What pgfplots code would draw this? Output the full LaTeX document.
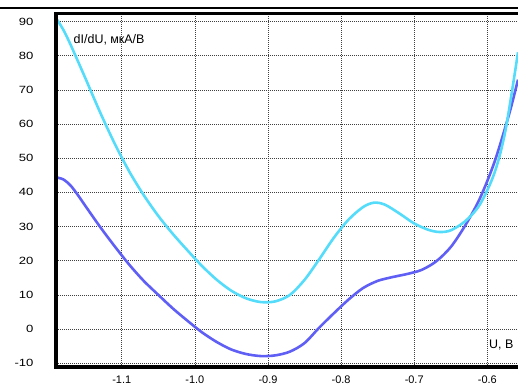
\documentclass[border=0pt]{standalone}
\usepackage{fontspec}
\setmainfont{Liberation Sans}
\newfontfamily\tickfont{Liberation Sans}[FakeStretch=1.25]
\usepackage{pgfplots}
\pgfplotsset{compat=1.18}
\definecolor{cy}{RGB}{85,220,250}
\definecolor{bl}{RGB}{95,95,245}
\begin{document}
\begin{tikzpicture}
\begin{axis}[
 scale only axis, width=462bp, height=353.3bp,
 xmin=-1.19, xmax=-0.558, ymin=-11.1, ymax=92.3,
 xtick={-1.1,-1.0,-0.9,-0.8,-0.7,-0.6},
 xticklabels={-1.1,-1.0,-0.9,-0.8,-0.7,-0.6},
 ytick={-10,0,10,20,30,40,50,60,70,80,90},
 yticklabels={-10,0,10,20,30,40,50,60,70,80,90},
 major tick length=0pt,
 grid=major,
 major grid style={black!75, line width=0.6bp, dash pattern=on 1bp off 1bp},
 axis line style={draw=none},
 clip=false,
 yticklabel style={font=\tickfont\fontsize{10.5}{12}\selectfont, anchor=east, xshift=-19bp},
 xticklabel style={font=\fontsize{11}{13}\selectfont, anchor=north, yshift=-5bp},
]
\addplot[bl, line width=2.6bp, smooth, tension=0.5] coordinates {
(-1.19,44.4) (-1.18,43.8) (-1.17,42.0) (-1.16,39.2) (-1.15,36.1) (-1.13,30.0) (-1.11,24.3) (-1.09,18.9)
(-1.07,14.1) (-1.05,10.0) (-1.03,6.0) (-1.01,2.4) (-0.99,-1.0) (-0.97,-3.8)
(-0.95,-6.0) (-0.93,-7.3) (-0.91,-7.9) (-0.89,-7.7) (-0.87,-6.6) (-0.85,-4.1)
(-0.83,0.4) (-0.81,4.6) (-0.79,8.6) (-0.77,12.0) (-0.75,14.1) (-0.73,15.2)
(-0.71,16.1) (-0.69,17.3) (-0.67,19.8) (-0.65,24.0) (-0.63,30.4) (-0.61,38.3)
(-0.59,49.0) (-0.57,63.0) (-0.558,73.0)
};
\addplot[cy, line width=2.6bp, smooth, tension=0.5] coordinates {
(-1.19,91.0) (-1.18,87.6) (-1.17,83.2) (-1.15,73.5) (-1.13,63.6) (-1.11,54.4)
(-1.09,46.2) (-1.07,39.2) (-1.05,33.1) (-1.03,27.8) (-1.01,23.0) (-0.99,18.4)
(-0.97,14.4) (-0.95,11.2) (-0.93,9.0) (-0.91,7.9) (-0.89,8.1) (-0.87,10.0)
(-0.85,14.4) (-0.83,20.4) (-0.81,26.7) (-0.79,32.0) (-0.77,35.7) (-0.755,37.0)
(-0.74,36.4) (-0.72,33.8) (-0.70,30.9) (-0.68,29.0) (-0.665,28.4) (-0.65,28.9)
(-0.63,31.6) (-0.61,36.5) (-0.59,45.8) (-0.575,58.3) (-0.558,81.0)
};
\node[anchor=base west, font=\fontsize{12.5}{14}\selectfont, inner sep=0pt] at (axis cs:-1.166,83.5) {dI/dU, мкА/В};
\node[anchor=base east, font=\fontsize{12.5}{14}\selectfont, inner sep=0pt] at (axis cs:-0.564,-5.7) {U, В};
\coordinate (ll) at (rel axis cs:0,0);
\coordinate (ul) at (rel axis cs:0,1);
\coordinate (ur) at (rel axis cs:1,1);
\coordinate (lr) at (rel axis cs:1,0);
\end{axis}
\draw[line width=3.5bp, line join=miter] ([xshift=10bp]ur) -- (ul) -- (ll) -- ([xshift=10bp]lr);
\draw[line width=2bp] ([shift={(-70bp,5.4bp)}]ul) -- ([shift={(10bp,5.4bp)}]ur);
\pgfresetboundingbox
\useasboundingbox ([shift={(-56bp,-18bp)}]ll) rectangle ([shift={(0bp,13.7bp)}]ur);
\end{tikzpicture}
\end{document}
